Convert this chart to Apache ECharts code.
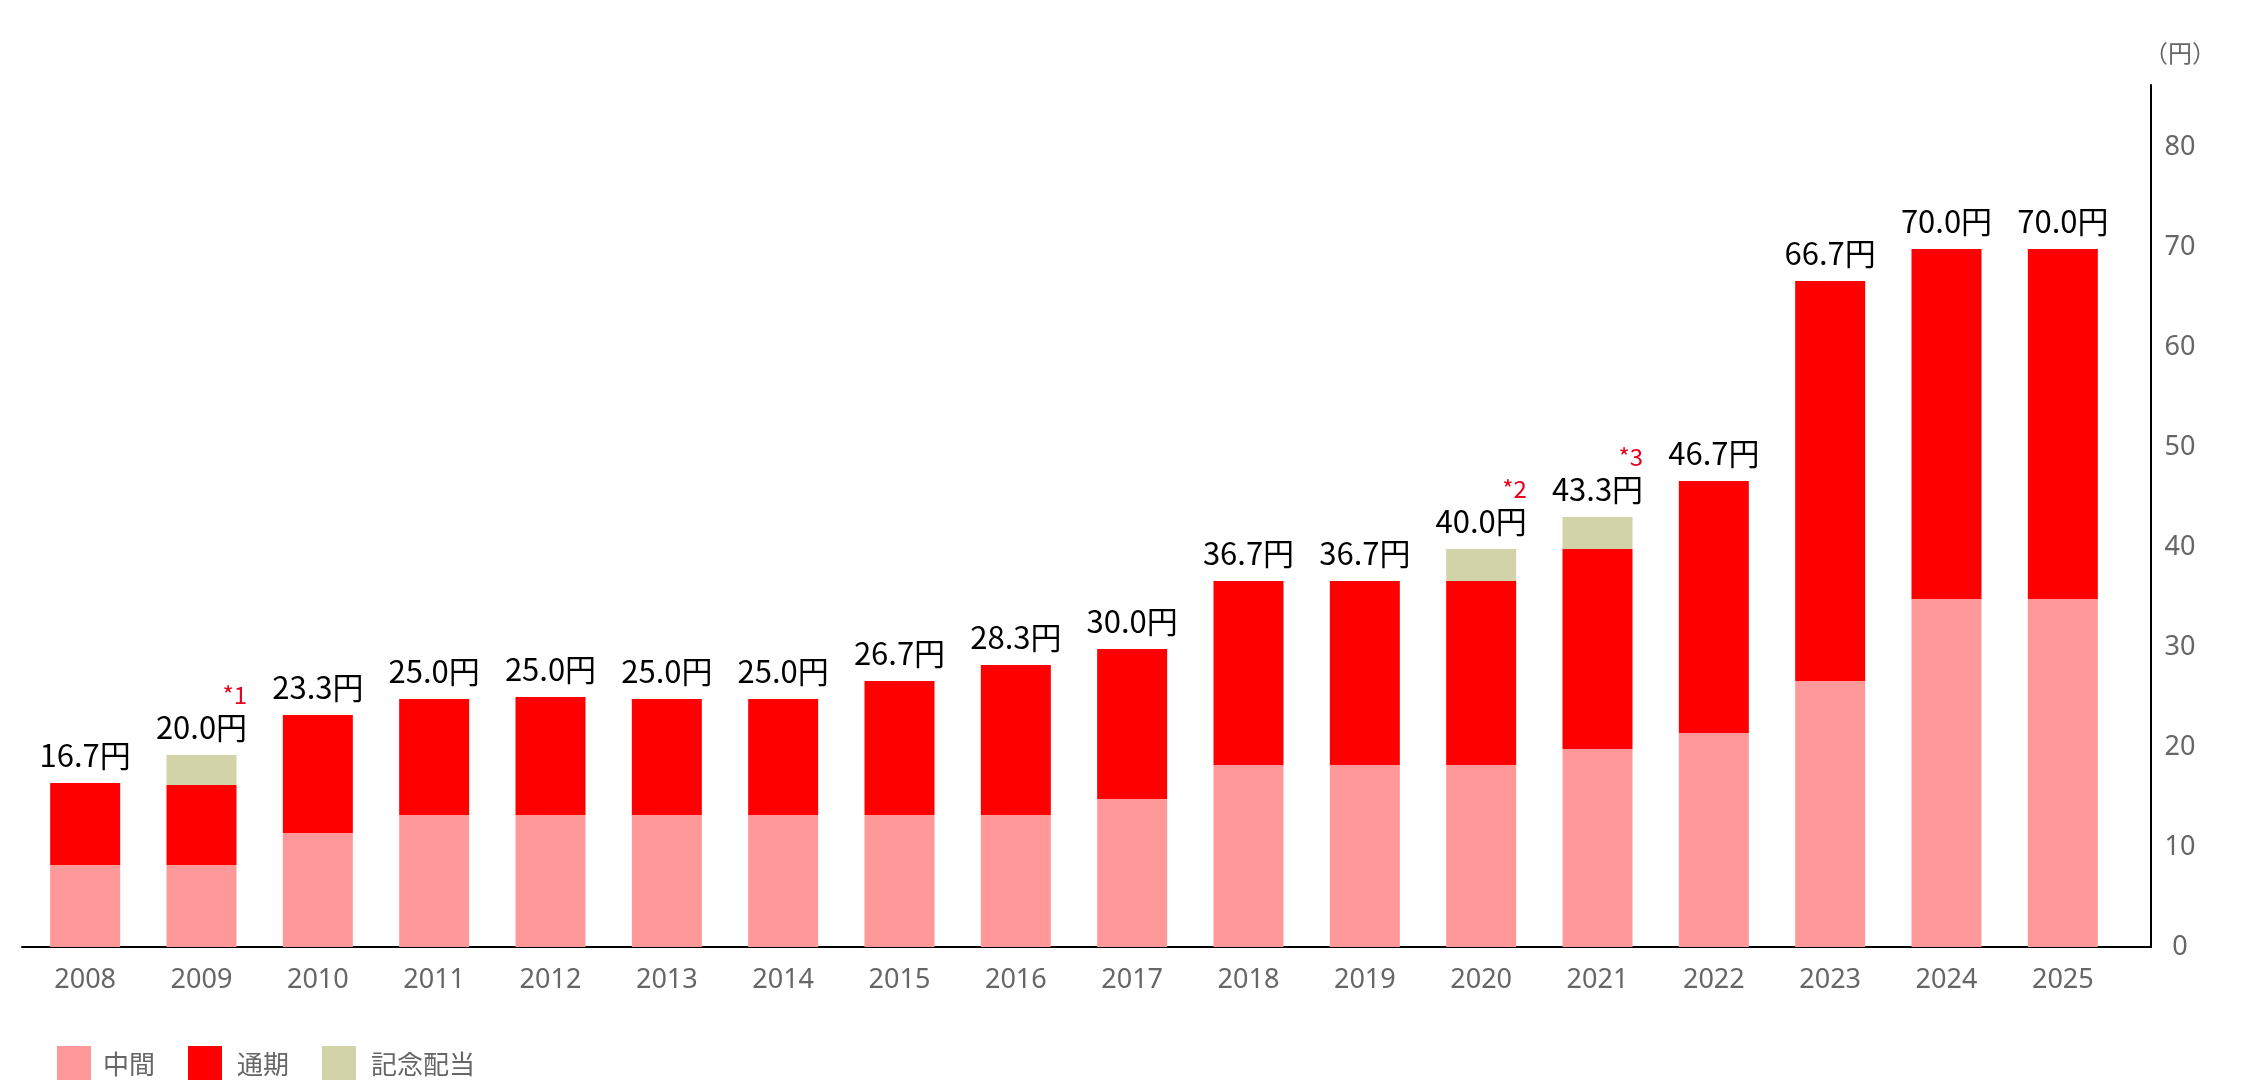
<!DOCTYPE html>
<html>
<head>
<meta charset="utf-8">
<script src="https://cdn.jsdelivr.net/npm/echarts@6/dist/echarts.min.js"></script>
<style>
  html, body { margin: 0; padding: 0; background: #fff; }
  #chart { width: 2260px; height: 1080px; }
</style>
</head>
<body>
<div id="chart"></div>
<script>
// 年度
const years = ['2008', '2009', '2010', '2011', '2012', '2013', '2014', '2015', '2016',
  '2017', '2018', '2019', '2020', '2021', '2022', '2023', '2024', '2025']
// 中間配当
const interim = [8.2, 8.2, 11.4, 13.2, 13.2, 13.2, 13.2, 13.2, 13.2,
  14.8, 18.2, 18.2, 18.2, 19.8, 21.4, 26.6, 34.8, 34.8]
// 通期（期末分）
const yearEnd = [8.2, 8.0, 11.8, 11.6, 11.8, 11.6, 11.6, 13.4, 15.0,
  15.0, 18.4, 18.4, 18.4, 20.0, 25.2, 40.0, 35.0, 35.0]
// 記念配当
const commemorative = [0, 3.0, 0, 0, 0, 0, 0, 0, 0,
  0, 0, 0, 3.2, 3.2, 0, 0, 0, 0]
// 合計ラベル
const totals = ['16.7', '20.0', '23.3', '25.0', '25.0', '25.0', '25.0', '26.7', '28.3',
  '30.0', '36.7', '36.7', '40.0', '43.3', '46.7', '66.7', '70.0', '70.0']
// 注記
const notes = ['', '*1', '', '', '', '', '', '', '',
  '', '', '', '*2', '*3', '', '', '', '']

const chart = echarts.init(document.getElementById('chart'))

const AXIS_MAX = 86.2

const option = {
  animation: false,
  textStyle: { fontFamily: 'Noto Sans CJK JP' },
  grid: [
    // 棒グラフ用
    { left: 27, right: 139, top: 85, bottom: 133 },
    // 軸線用
    { left: 22, right: 109, top: 85, bottom: 133 }
  ],
  legend: {
    left: 52,
    top: 1041,
    icon: 'rect',
    itemWidth: 34,
    itemHeight: 36,
    itemGap: 33,
    selectedMode: false,
    textStyle: {
      fontSize: 26,
      color: '#666',
      fontFamily: 'Noto Sans CJK JP'
    },
    data: [
      { name: '中間', textStyle: { padding: [0, 0, 0, 7] } },
      { name: '通期', textStyle: { padding: [0, 10, 0, 10] } },
      { name: '記念配当', textStyle: { padding: [0, 0, 0, 10] } }
    ]
  },
  xAxis: [
    {
      type: 'category',
      gridIndex: 0,
      data: years,
      axisLine: { show: false },
      axisTick: { show: false },
      axisLabel: {
        color: '#666',
        fontSize: 27,
        fontFamily: 'Noto Sans',
        margin: 20
      }
    },
    {
      type: 'value',
      gridIndex: 1,
      min: 0,
      max: 1,
      axisLine: { show: true, onZero: false, lineStyle: { color: '#000', width: 2 } },
      axisTick: { show: false },
      axisLabel: { show: false },
      splitLine: { show: false }
    }
  ],
  yAxis: [
    {
      type: 'value',
      gridIndex: 0,
      min: 0,
      max: AXIS_MAX,
      show: false
    },
    {
      type: 'value',
      gridIndex: 1,
      position: 'right',
      min: 0,
      max: AXIS_MAX,
      interval: 10,
      name: '（円）',
      nameLocation: 'end',
      nameGap: 20,
      nameTextStyle: {
        color: '#666',
        fontSize: 24,
        fontFamily: 'Noto Sans CJK JP',
        align: 'center',
        padding: [0, 0, 0, 58]
      },
      axisLine: { show: true, onZero: false, lineStyle: { color: '#000', width: 2 } },
      axisTick: { show: false },
      splitLine: { show: false },
      axisLabel: {
        color: '#666',
        fontSize: 27,
        fontFamily: 'Noto Sans',
        align: 'center',
        margin: 29,
        padding: [3, 0, 0, 0],
        showMaxLabel: false
      }
    }
  ],
  series: [
    {
      name: '中間',
      type: 'bar',
      stack: 'dividend',
      barWidth: 70,
      xAxisIndex: 0,
      yAxisIndex: 0,
      silent: true,
      itemStyle: { color: '#ff9999' },
      data: interim
    },
    {
      name: '通期',
      type: 'bar',
      stack: 'dividend',
      barWidth: 70,
      xAxisIndex: 0,
      yAxisIndex: 0,
      silent: true,
      itemStyle: { color: '#ff0000' },
      data: yearEnd
    },
    {
      name: '記念配当',
      type: 'bar',
      stack: 'dividend',
      barWidth: 70,
      xAxisIndex: 0,
      yAxisIndex: 0,
      silent: true,
      itemStyle: { color: '#d2d3a8' },
      label: {
        show: true,
        position: 'top',
        distance: 10,
        formatter: function (p) {
          const v = '{v|' + totals[p.dataIndex] + '円}'
          const n = notes[p.dataIndex]
          return n ? '{n|' + n + '}\n' + v : v
        },
        rich: {
          v: {
            fontSize: 31,
            color: '#000',
            fontFamily: 'Noto Sans CJK JP',
            lineHeight: 36
          },
          n: {
            fontSize: 24,
            color: '#e8001c',
            fontFamily: 'Noto Sans CJK JP',
            lineHeight: 28,
            align: 'right'
          }
        }
      },
      data: commemorative
    }
  ]
}

chart.setOption(option)
</script>
</body>
</html>
